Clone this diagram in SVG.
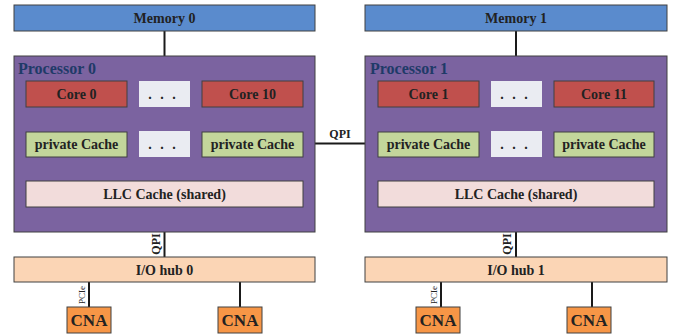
<svg xmlns="http://www.w3.org/2000/svg" width="675" height="334" viewBox="0 0 675 334">
  <style>
    .box { stroke: #404040; stroke-width: 1; }
    .mem { fill: #5a8bcd; }
    .proc { fill: #7b63a0; }
    .core { fill: #c0504d; }
    .pc { fill: #c3d69b; }
    .dots { fill: #eaecf2; stroke: none; }
    .llc { fill: #f2dcdb; }
    .hub { fill: #fbd5b5; }
    .cna { fill: #f79646; }
    .t { font-family: "Liberation Serif", "Times New Roman", serif; font-weight: bold; fill: #222222; text-anchor: middle; font-size: 14px; }
    .ptitle { font-family: "Liberation Serif", "Times New Roman", serif; font-weight: bold; fill: #1f3a68; font-size: 16px; }
    .cnat { font-size: 17px; }
    .dt { font-family: "Liberation Serif", "Times New Roman", serif; font-weight: bold; fill: #222222; text-anchor: middle; font-size: 14px; }
    .lbl { font-family: "Liberation Serif", "Times New Roman", serif; font-weight: bold; fill: #222222; text-anchor: middle; font-size: 12px; }
    .pcie { font-family: "Liberation Serif", "Times New Roman", serif; fill: #222222; text-anchor: middle; font-size: 9px; }
    .wire { stroke: #1a1a1a; stroke-width: 2; fill: none; }
  </style>

  <!-- connectors -->
  <g id="connectors">
    <line class="wire" x1="164.5" y1="31" x2="164.5" y2="56"/>
    <line class="wire" x1="516" y1="31" x2="516" y2="56"/>
    <line class="wire" x1="77" y1="107" x2="77" y2="132"/>
    <line class="wire" x1="252" y1="107" x2="252" y2="132"/>
    <line class="wire" x1="77" y1="157" x2="77" y2="181"/>
    <line class="wire" x1="252" y1="157" x2="252" y2="181"/>
    <line class="wire" x1="428" y1="107" x2="428" y2="132"/>
    <line class="wire" x1="604" y1="107" x2="604" y2="132"/>
    <line class="wire" x1="428" y1="157" x2="428" y2="181"/>
    <line class="wire" x1="604" y1="157" x2="604" y2="181"/>
    <line class="wire" x1="315" y1="143.5" x2="365" y2="143.5"/>
    <line class="wire" x1="164.5" y1="232" x2="164.5" y2="257"/>
    <line class="wire" x1="516" y1="232" x2="516" y2="257"/>
    <line class="wire" x1="89" y1="282" x2="89" y2="307"/>
    <line class="wire" x1="240" y1="282" x2="240" y2="307"/>
    <line class="wire" x1="441" y1="282" x2="441" y2="307"/>
    <line class="wire" x1="592" y1="282" x2="592" y2="307"/>
    <text class="lbl" x="340" y="138">QPI</text>
    <text class="lbl" transform="translate(159.5,244) rotate(-90)">QPI</text>
    <text class="lbl" transform="translate(511,244) rotate(-90)">QPI</text>
    <text class="pcie" transform="translate(85,295) rotate(-90)">PCIe</text>
    <text class="pcie" transform="translate(437,295) rotate(-90)">PCIe</text>
  </g>

  <!-- socket 0 -->
  <g id="memory0">
    <rect class="box mem" x="14" y="5" width="301" height="26"/>
    <text class="t" x="164.5" y="23">Memory 0</text>
  </g>
  <g id="processor0">
    <rect class="box proc" x="14" y="56" width="301" height="176"/>
    <text class="ptitle" x="18" y="73.5">Processor 0</text>
  </g>
  <g id="core0">
    <rect class="box core" x="26" y="81" width="101" height="26"/>
    <text class="t" x="76.5" y="99">Core 0</text>
  </g>
  <g id="dots0a">
    <rect class="dots" x="139" y="81" width="51" height="26"/>
    <text class="dt" x="150 162 174" y="99">...</text>
  </g>
  <g id="core10">
    <rect class="box core" x="202" y="81" width="101" height="26"/>
    <text class="t" x="252.5" y="99">Core 10</text>
  </g>
  <g id="pcache0">
    <rect class="box pc" x="26" y="132" width="101" height="25"/>
    <text class="t" x="76.5" y="149">private Cache</text>
  </g>
  <g id="dots0b">
    <rect class="dots" x="139" y="131" width="51" height="26"/>
    <text class="dt" x="150 162 174" y="149">...</text>
  </g>
  <g id="pcache10">
    <rect class="box pc" x="202" y="132" width="101" height="25"/>
    <text class="t" x="252.5" y="149">private Cache</text>
  </g>
  <g id="llc0">
    <rect class="box llc" x="26" y="181" width="277" height="26"/>
    <text class="t" x="164.5" y="199">LLC Cache (shared)</text>
  </g>
  <g id="iohub0">
    <rect class="box hub" x="14" y="257" width="301" height="25"/>
    <text class="t" x="164.5" y="274.5">I/O hub 0</text>
  </g>
  <g id="cna0a">
    <rect class="box cna" x="67" y="307" width="44" height="26"/>
    <text class="t cnat" x="89" y="325.5">CNA</text>
  </g>
  <g id="cna0b">
    <rect class="box cna" x="218" y="307" width="44" height="26"/>
    <text class="t cnat" x="240" y="325.5">CNA</text>
  </g>

  <!-- socket 1 -->
  <g id="memory1">
    <rect class="box mem" x="365" y="5" width="302" height="26"/>
    <text class="t" x="516" y="23">Memory 1</text>
  </g>
  <g id="processor1">
    <rect class="box proc" x="365" y="56" width="302" height="176"/>
    <text class="ptitle" x="370" y="73.5">Processor 1</text>
  </g>
  <g id="core1">
    <rect class="box core" x="378" y="81" width="101" height="26"/>
    <text class="t" x="428.5" y="99">Core 1</text>
  </g>
  <g id="dots1a">
    <rect class="dots" x="491" y="81" width="51" height="26"/>
    <text class="dt" x="502 514 526" y="99">...</text>
  </g>
  <g id="core11">
    <rect class="box core" x="554" y="81" width="100" height="26"/>
    <text class="t" x="604" y="99">Core 11</text>
  </g>
  <g id="pcache1">
    <rect class="box pc" x="378" y="132" width="101" height="25"/>
    <text class="t" x="428.5" y="149">private Cache</text>
  </g>
  <g id="dots1b">
    <rect class="dots" x="491" y="131" width="51" height="26"/>
    <text class="dt" x="502 514 526" y="149">...</text>
  </g>
  <g id="pcache11">
    <rect class="box pc" x="554" y="132" width="100" height="25"/>
    <text class="t" x="604" y="149">private Cache</text>
  </g>
  <g id="llc1">
    <rect class="box llc" x="378" y="181" width="276" height="26"/>
    <text class="t" x="516" y="199">LLC Cache (shared)</text>
  </g>
  <g id="iohub1">
    <rect class="box hub" x="365" y="257" width="302" height="25"/>
    <text class="t" x="516" y="274.5">I/O hub 1</text>
  </g>
  <g id="cna1a">
    <rect class="box cna" x="416" y="307" width="44" height="26"/>
    <text class="t cnat" x="438" y="325.5">CNA</text>
  </g>
  <g id="cna1b">
    <rect class="box cna" x="567" y="307" width="44" height="26"/>
    <text class="t cnat" x="589" y="325.5">CNA</text>
  </g>
</svg>
